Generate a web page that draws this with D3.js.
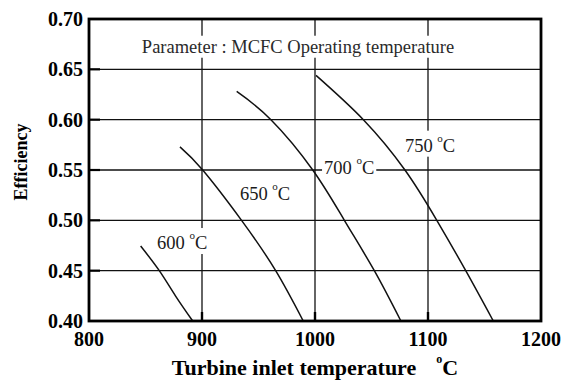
<!DOCTYPE html>
<html>
<head>
<meta charset="utf-8">
<script src="https://cdn.jsdelivr.net/npm/d3@7"></script>
<style>
  html, body { margin: 0; padding: 0; background: #fff; }
  svg text { font-family: "Liberation Serif", "Times New Roman", serif; }
</style>
</head>
<body>
<svg id="chart" width="567" height="380"></svg>
<script>
// Axis ticks
const xTicks = [800, 900, 1000, 1100, 1200];
const yTicks = [0.40, 0.45, 0.50, 0.55, 0.60, 0.65, 0.70];
const gridX = [900, 1000, 1100];
const gridY = [0.45, 0.50, 0.55, 0.60, 0.65];

// Efficiency vs turbine inlet temperature, one curve per MCFC operating temperature
const mcfcTemps = ["600", "650", "700", "750"];
const inlet600 = [845.7, 862.2, 876.5, 891.8];
const eff600   = [0.4745, 0.45, 0.425, 0.40];
const inlet650 = [880.5, 900.6, 935.0, 965.2, 989.6];
const eff650   = [0.573, 0.55, 0.50, 0.45, 0.40];
const inlet700 = [930.7, 961.0, 998.0, 1026.0, 1052.5, 1076.0];
const eff700   = [0.628, 0.60, 0.55, 0.50, 0.45, 0.40];
const inlet750 = [1000.9, 1042.8, 1079.6, 1107.8, 1133.4, 1157.8];
const eff750   = [0.644, 0.60, 0.55, 0.50, 0.45, 0.40];

// Curve label anchors (inlet temperature, efficiency) where each label starts
const labelInlet = [860.2, 933.6, 1008.0, 1079.6];
const labelEff   = [0.4715, 0.5202, 0.5457, 0.5682];

const titleText = "Parameter : MCFC Operating temperature";
const xTitle = "Turbine inlet temperature";
const yTitle = "Efficiency";

const W = 567, H = 380;
const margin = { left: 89, right: 26, top: 19, bottom: 59 };

const svg = d3.select("#chart");
const x = d3.scaleLinear().domain([800, 1200]).range([margin.left, W - margin.right]);
const y = d3.scaleLinear().domain([0.40, 0.70]).range([H - margin.bottom, margin.top]);

const [x0, x1] = x.range();
const [y0, y1] = y.range();

// Grid lines
const grid = svg.append("g").attr("stroke", "#111").attr("stroke-width", 1.3);
grid.selectAll("line.gx").data(gridX).join("line")
  .attr("x1", d => x(d)).attr("x2", d => x(d))
  .attr("y1", y0).attr("y2", y1);
grid.selectAll("line.gy").data(gridY).join("line")
  .attr("x1", x0).attr("x2", x1)
  .attr("y1", d => y(d)).attr("y2", d => y(d));

// Curves
const series = [
  [inlet600, eff600], [inlet650, eff650], [inlet700, eff700], [inlet750, eff750]
].map(([xs, ys]) => xs.map((v, i) => [v, ys[i]]));

const line = d3.line()
  .x(d => x(d[0])).y(d => y(d[1]))
  .curve(d3.curveNatural);

svg.append("g").selectAll("path").data(series).join("path")
  .attr("d", line)
  .attr("fill", "none")
  .attr("stroke", "#111")
  .attr("stroke-width", 1.5);

// Labels with a white knock-out behind them
const labelLayer = svg.append("g");

function addKnockout(textSel, padX, padTop, padBottom) {
  const b = textSel.node().getBBox();
  labelLayer.insert("rect", () => textSel.node())
    .attr("x", b.x - padX).attr("y", b.y - padTop)
    .attr("width", b.width + 2 * padX).attr("height", b.height + padTop + padBottom)
    .attr("fill", "#fff");
}

const title = labelLayer.append("text")
  .attr("x", x(985)).attr("y", y(0.6665))
  .attr("text-anchor", "middle")
  .attr("font-size", 18.5)
  .attr("fill", "#2a2a2a")
  .text(titleText);
addKnockout(title, 2, 1, 1);

mcfcTemps.forEach((t, i) => {
  const g = labelLayer.append("text")
    .attr("x", x(labelInlet[i])).attr("y", y(labelEff[i]))
    .attr("font-size", 18.5)
    .attr("fill", "#1a1a1a");
  g.append("tspan").text(t + " ");
  g.append("tspan").attr("font-size", 11).attr("dy", -10).text("o");
  g.append("tspan").attr("dy", 10).text("C");
  addKnockout(g, 2, 1, 1);
});

// Frame and inward ticks
const frame = svg.append("g").attr("stroke", "#000").attr("fill", "none");
frame.append("rect")
  .attr("x", x0).attr("y", y1)
  .attr("width", x1 - x0).attr("height", y0 - y1)
  .attr("stroke-width", 2.8);
frame.selectAll("line.tx").data(gridX).join("line")
  .attr("x1", d => x(d)).attr("x2", d => x(d))
  .attr("y1", y0).attr("y2", y0 - 9)
  .attr("stroke-width", 2.4);
frame.selectAll("line.ty").data(gridY).join("line")
  .attr("x1", x0).attr("x2", x0 + 11)
  .attr("y1", d => y(d)).attr("y2", d => y(d))
  .attr("stroke-width", 2.2);

// Tick labels
svg.append("g").selectAll("text").data(xTicks).join("text")
  .attr("x", d => x(d)).attr("y", y0 + 24.5)
  .attr("text-anchor", "middle")
  .attr("font-size", 20).attr("font-weight", "bold")
  .text(d => d);

svg.append("g").selectAll("text").data(yTicks).join("text")
  .attr("x", x0 - 6).attr("y", d => y(d) + 7)
  .attr("text-anchor", "end")
  .attr("font-size", 20).attr("font-weight", "bold")
  .text(d => d.toFixed(2));

// Axis titles
const xt = svg.append("text")
  .attr("x", (x0 + x1) / 2).attr("y", H - 5)
  .attr("text-anchor", "middle")
  .attr("font-size", 22).attr("font-weight", "bold");
xt.append("tspan").text(xTitle);
xt.append("tspan").attr("dx", 20).attr("dy", -12).attr("font-size", 12).text("o");
xt.append("tspan").attr("dy", 12).text("C");

svg.append("text")
  .attr("transform", `translate(27,${(y0 + y1) / 2 - 8}) rotate(-90)`)
  .attr("text-anchor", "middle")
  .attr("font-size", 18).attr("font-weight", "bold")
  .text(yTitle);
</script>
</body>
</html>
